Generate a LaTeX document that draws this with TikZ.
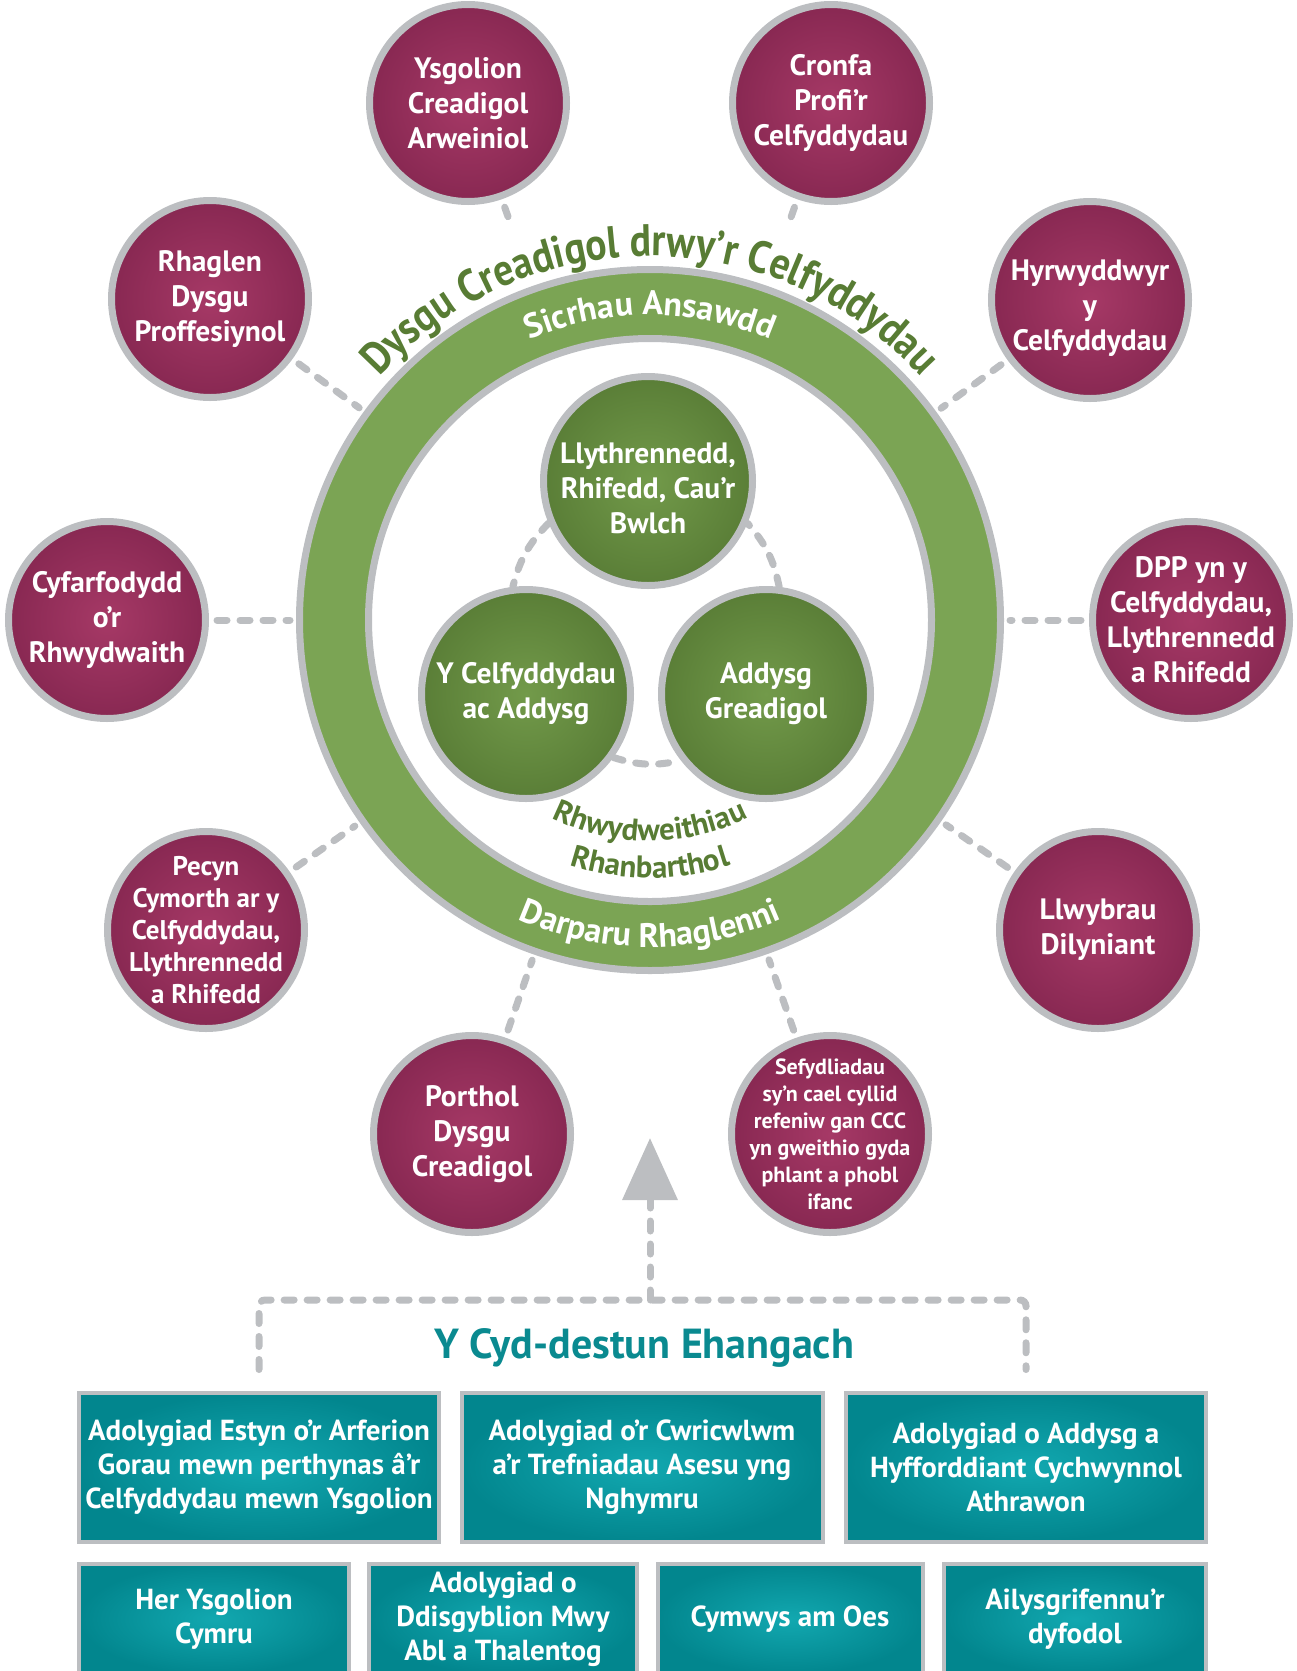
\documentclass[tikz,border=0pt]{standalone}
\usepackage{fontspec}
\setmainfont{PT Sans}
\newfontfamily\narrowfont[FakeStretch=0.88]{PT Sans}
\usetikzlibrary{decorations.text,arrows.meta}

\definecolor{ringgray}{RGB}{188,190,193}
\definecolor{maroonlt}{RGB}{166,57,102}
\definecolor{maroondk}{RGB}{136,40,82}
\definecolor{leaflt}{RGB}{114,154,74}
\definecolor{leafdk}{RGB}{90,126,55}
\definecolor{ringgreen}{RGB}{123,164,84}
\definecolor{textgreen}{RGB}{88,124,52}
\definecolor{teallt}{RGB}{18,168,176}
\definecolor{tealdk}{RGB}{2,134,142}
\definecolor{titleteal}{RGB}{10,138,144}

\tikzset{
	bubble/.style={circle, minimum size=197pt, inner sep=-25pt, draw=ringgray, line width=7pt,
		inner color=maroonlt, outer color=maroondk, text=white, align=center,
		font=\bfseries\fontsize{29.5}{35}\selectfont},
	core/.style={circle, minimum size=209pt, inner sep=0pt, draw=ringgray, line width=7pt,
		inner color=leaflt, outer color=leafdk, text=white, align=center,
		font=\bfseries\fontsize{29.5}{35}\selectfont},
	link/.style={draw=ringgray, line width=7pt, line cap=round, dash pattern=on 10pt off 13pt},
	review/.style={rectangle, draw=ringgray, line width=4pt, inner color=teallt, outer color=tealdk,
		text=white, align=center, font=\bfseries\fontsize{29}{34}\selectfont,
		minimum height=149pt},
}

\begin{document}
\begin{tikzpicture}[x=1pt,y=-1pt]

	\useasboundingbox (0,0) rectangle (1297,1671);

	\node[circle, minimum size=701pt, draw=ringgray, line width=7pt, fill=ringgreen] (ring) at (650,620) {};
	\node[circle, minimum size=563pt, draw=ringgray, line width=7pt, fill=white] (hole) at (ring) {};

	\node[core, text height=105pt] (lit) at (648,481) {Llythrennedd,\\Rhifedd, Cau’r\\Bwlch};
	\node[core] (arts) at (526,694) {Y Celfyddydau\\ac Addysg};
	\node[core] (creat) at (766,694) {Addysg\\Greadigol};

	\draw[link] (lit.203) to[bend right=15] (arts.97);
	\draw[link] (arts.324) to[bend right=15] (creat.218);
	\draw[link] (creat.83) to[bend right=15] (lit.337);

	\path[decorate, decoration={text along path, text align=center, text color=textgreen,
		text={|\narrowfont\bfseries\fontsize{45}{52}\selectfont|Dysgu Creadigol drwy’r Celfyddydau}}]
		(ring.center) ++(170:364pt) arc[start angle=170, end angle=10, radius=364pt];
	\path[decorate, decoration={text along path, text align=center, text color=white,
		text={|\bfseries\fontsize{34}{40}\selectfont|Sicrhau Ansawdd}}]
		(ring.center) ++(170:305pt) arc[start angle=170, end angle=10, radius=305pt];
	\path[decorate, decoration={text along path, text align=center, text color=white,
		text={|\bfseries\fontsize{34}{40}\selectfont|Darparu Rhaglenni}}]
		(ring.center) ++(190:327pt) arc[start angle=190, end angle=350, radius=327pt];
	\path[decorate, decoration={text along path, text align=center, text color=textgreen,
		text={|\bfseries\fontsize{31}{37}\selectfont|Rhwydweithiau}}]
		(ring.center) ++(200:221pt) arc[start angle=200, end angle=340, radius=221pt];
	\path[decorate, decoration={text along path, text align=center, text color=textgreen,
		text={|\bfseries\fontsize{31}{37}\selectfont|Rhanbarthol}}]
		(ring.center) ++(200:258pt) arc[start angle=200, end angle=340, radius=258pt];

	\node[bubble] (ysg) at (468,103) {Ysgolion\\Creadigol\\Arweiniol};
	\node[bubble] (cronfa) at (831,103) {Cronfa\\Profi’r\\Celfyddydau};
	\node[bubble] (rhaglen) at (210,299) {Rhaglen\\Dysgu\\Proffesiynol};
	\node[bubble, text height=107pt] (hyrw) at (1090,300) {Hyrwyddwyr\\y\\Celfyddydau};
	\node[bubble] (cyfarf) at (107,620) {Cyfarfodydd\\o’r\\Rhwydwaith};
	\node[bubble] (dpp) at (1191,620) {DPP yn y\\Celfyddydau,\\Llythrennedd\\a Rhifedd};
	\node[bubble, font=\bfseries\fontsize{27}{32}\selectfont] (pecyn) at (206,930) {Pecyn\\Cymorth ar y\\Celfyddydau,\\Llythrennedd\\a Rhifedd};
	\node[bubble] (llwyb) at (1098,930) {Llwybrau\\Dilyniant};
	\node[bubble] (porthol) at (472,1134) {Porthol\\Dysgu\\Creadigol};
	\node[bubble, font=\bfseries\fontsize{22}{27}\selectfont] (sefyd) at (830,1134) {Sefydliadau\\sy’n cael cyllid\\refeniw gan CCC\\yn gweithio gyda\\phlant a phobl\\ifanc};

	\draw[link, shorten <=8.5pt, shorten >=72pt] (ysg) -- (ring);
	\draw[link, shorten <=8.5pt, shorten >=72pt] (cronfa) -- (ring);
	\draw[link, shorten <=8pt, shorten >=6pt] (rhaglen) -- (ring);
	\draw[link, shorten <=8pt, shorten >=6pt] (hyrw) -- (ring);
	\draw[link, shorten <=8pt, shorten >=6pt] (cyfarf) -- (ring);
	\draw[link, shorten <=8pt, shorten >=6pt] (dpp) -- (ring);
	\draw[link, shorten <=8pt, shorten >=6pt] (pecyn) -- (ring);
	\draw[link, shorten <=8pt, shorten >=6pt] (llwyb) -- (ring);
	\draw[link, shorten <=8pt, shorten >=6pt] (porthol) -- (ring);
	\draw[link, shorten <=8pt, shorten >=6pt] (sefyd) -- (ring);

	\node[text=titleteal, font=\bfseries\fontsize{42}{50}\selectfont] (context) at (644,1348) {Y Cyd-destun Ehangach};

	\node[review, minimum width=360pt] (estyn) at (259,1467) {Adolygiad Estyn o’r Arferion\\Gorau mewn perthynas â’r\\Celfyddydau mewn Ysgolion};
	\node[review, minimum width=361pt] (cwric) at (642,1467) {Adolygiad o’r Cwricwlwm\\a’r Trefniadau Asesu yng\\Nghymru};
	\node[review, minimum width=360pt] (athro) at (1026,1467) {Adolygiad o Addysg a\\Hyfforddiant Cychwynnol\\Athrawon};

	\node[review, minimum width=270pt, minimum height=110pt] (her) at (214,1619) {Her Ysgolion\\Cymru};
	\node[review, minimum width=268pt, minimum height=110pt] (mat) at (503,1619) {Adolygiad o\\Ddisgyblion Mwy\\Abl a Thalentog};
	\node[review, minimum width=265pt, minimum height=110pt] (oes) at (790,1619) {Cymwys am Oes};
	\node[review, minimum width=262pt, minimum height=110pt] (dyfodol) at (1075,1619) {Ailysgrifennu’r\\dyfodol};

	\coordinate (join) at (650,1300);
	\coordinate (tip) at (650,1138);
	\draw[link, -{Triangle[width=54pt,length=62pt]}] (join) -- (tip);
	\draw[link, rounded corners=6pt, shorten <=21pt, shorten >=21pt] (estyn.north) |- (join) -| (athro.north);

\end{tikzpicture}
\end{document}
